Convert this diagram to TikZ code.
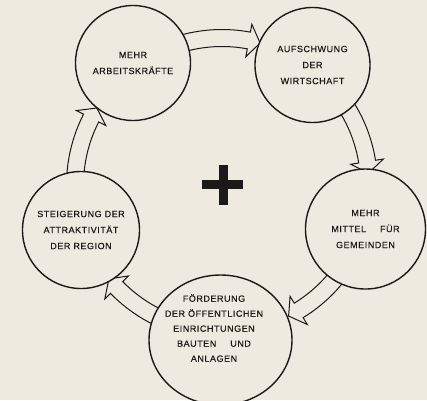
\documentclass[tikz,border=0pt]{standalone}
\usepackage{fontspec}
\newfontfamily\stagefont[LetterSpace=6,FakeBold=0.6]{Liberation Sans}
\usetikzlibrary{calc}
\usetikzlibrary{shapes.geometric}
\definecolor{paper}{RGB}{239,234,223}
\definecolor{ink}{RGB}{28,26,24}
\tikzstyle{stage}=[circle,draw=ink,line width=1.4pt,fill=paper,text=ink,align=center,inner sep=0pt,minimum size=115pt,font=\stagefont\fontsize{9}{16}\selectfont]
\tikzstyle{stagetext}=[text=ink,align=center,inner sep=0pt,font=\stagefont\fontsize{9}{15}\selectfont]
\tikzstyle{flowarrow}=[draw=ink,line width=1pt,fill=paper]
\pgfmathsetmacro{\ringmid}{147} % radius of the cycle the arrows run on
\pgfmathsetmacro{\ringin}{138.5}
\pgfmathsetmacro{\ringout}{155.5}
\pgfmathsetmacro{\headwd}{8}
\pgfmathsetmacro{\headlen}{4.5} % in degrees
\pgfdeclarelayer{underlay}
\pgfsetlayers{underlay,main}
\newcommand{\cyclearrow}[3]{% Syntax: {from node}{to node}{gap of the tip, degrees}
  \draw[flowarrow] let \p1=(#1), \p2=(#2),
      \n1={atan2(\y1,\x1)-10}, \n2={atan2(\y2,\x2)+#3},
      \n3={\n2-360*(\n2>\n1)}, \n4={\n3+\headlen} in
    ({\n1}:{\ringout}) arc[start angle=\n1, end angle=\n4, radius=\ringout]
    -- ({\n4}:{\ringout+\headwd}) -- ({\n3}:{\ringmid}) -- ({\n4}:{\ringin-\headwd})
    -- ({\n4}:{\ringin}) arc[start angle=\n4, end angle=\n1, radius=\ringin] -- cycle;
}
\begin{document}
\begin{tikzpicture}[x=1pt,y=1pt]
\useasboundingbox (-222,-215) rectangle (205,185);
\coordinate (hub) at (0,0);
\node[stage] (arbeit) at (-89,122) {MEHR\\ARBEITSKRÄFTE};
\node[stage] (aufschwung) at (90.5,120) {AUFSCHWUNG\\DER\\WIRTSCHAFT};
\node[stage,minimum size=120pt] (mittel) at (143.5,-44) {MEHR\\MITTEL\hspace{14pt}FÜR\\GEMEINDEN};
\node[stage,ellipse,minimum width=143pt,minimum height=130pt] (foerderung) at (-1.5,-155) {};
\node[stagetext] (foerderungtext) at ($(foerderung)+(-6.5,12)$) {FÖRDERUNG\\DER ÖFFENTLICHEN\\EINRICHTUNGEN\\BAUTEN\hspace{14pt}UND\\ANLAGEN};
\node[stage,minimum size=117pt] (steigerung) at (-141,-45) {STEIGERUNG DER\\ATTRAKTIVITÄT\\DER REGION};
% the plus in the middle
\fill[ink] ([shift={(-3,-20)}]hub) rectangle ([shift={(5.5,20)}]hub);
\fill[ink] ([shift={(-20,-4)}]hub) rectangle ([shift={(21,5)}]hub);
\begin{pgfonlayer}{underlay}
  \fill[paper] (-222,-215) rectangle (205,185);
  \cyclearrow{arbeit}{aufschwung}{22}
  \cyclearrow{aufschwung}{mittel}{21.7}
  \cyclearrow{mittel}{foerderung}{27.5}
  \cyclearrow{foerderung}{steigerung}{22}
  \cyclearrow{steigerung}{arbeit}{22.3}
\end{pgfonlayer}
\end{tikzpicture}
\end{document}
